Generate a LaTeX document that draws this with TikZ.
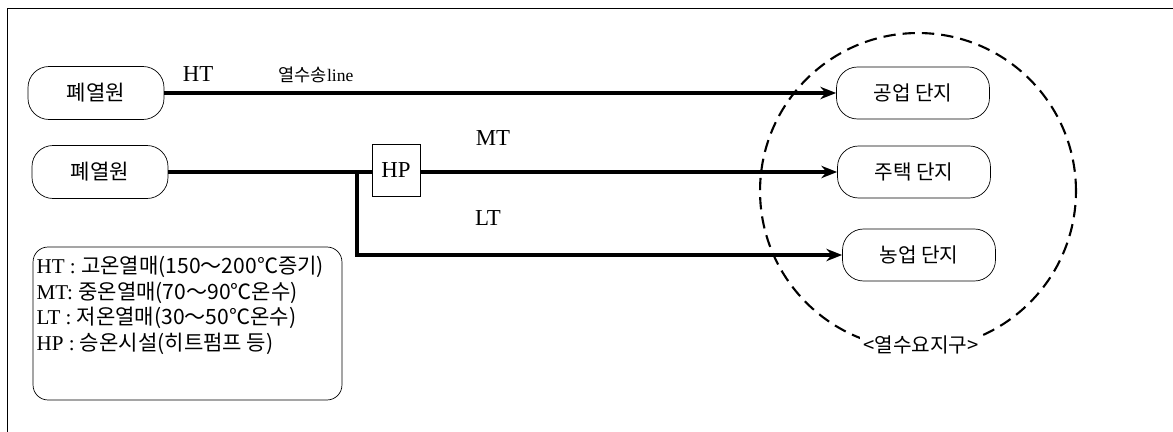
\documentclass[tikz,border=0pt]{standalone}
\usepackage{fontspec}
\setmainfont{Liberation Serif}
\newfontfamily\kr{Noto Sans CJK KR}
\usetikzlibrary{arrows.meta}

\begin{document}
\begin{tikzpicture}[x=0.02cm, y=-0.02cm,
    srcbox/.style={rectangle, draw, thin, rounded corners=0.42cm, minimum width=2.72cm, minimum height=1.06cm, font=\kr\fontsize{12}{14}\selectfont},
    sitebox/.style={rectangle, draw, thin, rounded corners=0.42cm, minimum width=3.06cm, minimum height=1.04cm, font=\kr\fontsize{11.5}{14}\selectfont},
    heatline/.style={line width=2.2pt},
    heatarrow/.style={-{Stealth[length=9pt, width=7pt]}},
    lbl/.style={font=\fontsize{13}{15}\selectfont}]
    \useasboundingbox (0,0) rectangle (1173,432);

    % Rahmen
    \draw[thin] (1173,8) -- (7,8) -- (7,432);

    % Waermequellen
    \node[srcbox] (src1) at (96,93) {폐열원};
    \node[srcbox] (src2) at (100,172) {폐열원};

    % Waermepumpe
    \node[rectangle, draw, thin, minimum width=0.96cm, minimum height=1.04cm, lbl] (hp) at (396,170) {HP};

    % Verbraucher
    \node[sitebox] (ind) at (913,93) {공업 단지};
    \node[sitebox] (res) at (914,172) {주택 단지};
    \node[sitebox] (agr) at (919,255) {농업 단지};

    % Bedarfsgebiet
    \node[circle, draw, dashed, dash pattern=on 7pt off 4pt, line width=1.2pt, minimum size=6.32cm] (zone) at (918,191) {};
    \node[fill=white, inner sep=2pt, font=\kr\fontsize{11.5}{13}\selectfont] (zonelbl) at (921,345) {<열수요지구>};

    % Leitungen
    \draw[heatline, heatarrow] (src1) -- (ind);
    \draw[heatline] (src2) -- (src2 -| hp.west);
    \draw[heatline, heatarrow] (res -| hp.east) -- (res);
    \coordinate (split) at (357,172);
    \draw[heatline, heatarrow] (split) |- (agr);

    % Beschriftung
    \node[lbl] (htlbl) at (198,74) {HT};
    \node[font=\fontsize{10}{12}\selectfont] (linelbl) at (316,75) {{\kr 열수송}line};
    \node[lbl] (mtlbl) at (493,138) {MT};
    \node[lbl] (ltlbl) at (488,218) {LT};

    % Legende
    \node[rectangle, draw, thin, rounded corners=0.3cm, minimum width=6.18cm, minimum height=3.06cm] (legend) at (187.5,323.5) {};
    \node[anchor=north west, align=left, inner sep=1pt, font=\fontsize{12}{14.7}\selectfont] (legtext) at ([xshift=1pt, yshift=-4pt]legend.north west)
        {HT : {\kr\fontsize{12}{14.7}\selectfont 고온열매(150～200℃증기)}\\
         MT: {\kr\fontsize{12}{14.7}\selectfont 중온열매(70～90℃온수)}\\
         LT : {\kr\fontsize{12}{14.7}\selectfont 저온열매(30～50℃온수)}\\
         HP : {\kr\fontsize{12}{14.7}\selectfont 승온시설(히트펌프 등)}};
\end{tikzpicture}
\end{document}
